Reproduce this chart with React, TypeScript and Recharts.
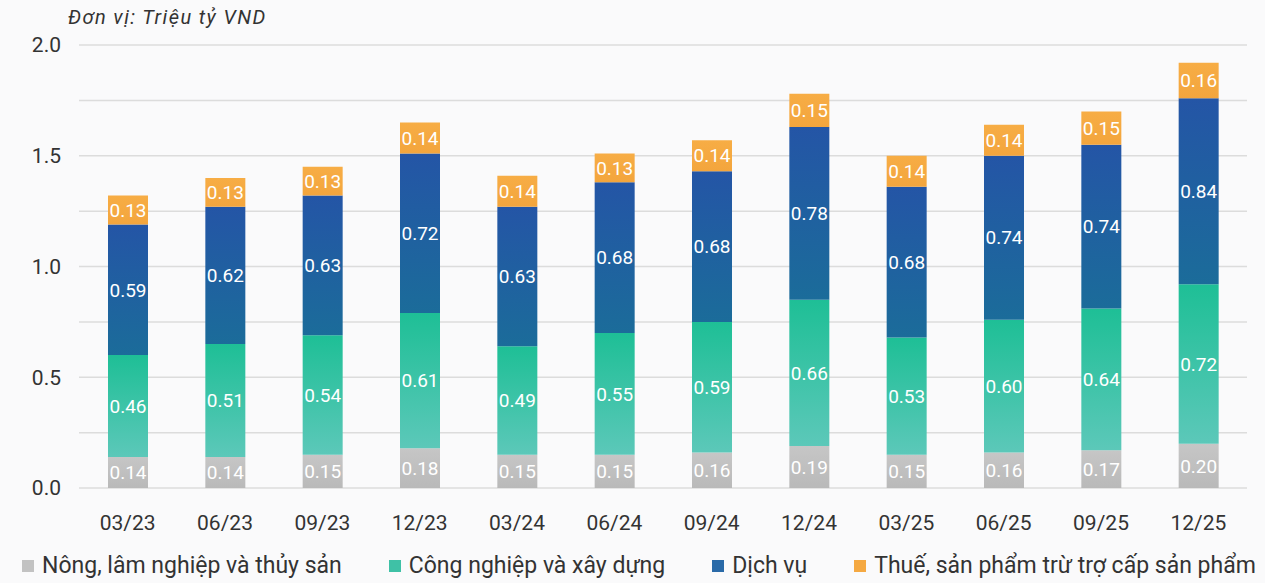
import React from "react";
import { BarChart, Bar, XAxis, YAxis, CartesianGrid, Legend, LabelList } from "recharts";

const categories = ["03/23", "06/23", "09/23", "12/23", "03/24", "06/24", "09/24", "12/24", "03/25", "06/25", "09/25", "12/25"];
const agriculture = [0.14, 0.14, 0.15, 0.18, 0.15, 0.15, 0.16, 0.19, 0.15, 0.16, 0.17, 0.2];
const industry = [0.46, 0.51, 0.54, 0.61, 0.49, 0.55, 0.59, 0.66, 0.53, 0.6, 0.64, 0.72];
const services = [0.59, 0.62, 0.63, 0.72, 0.63, 0.68, 0.68, 0.78, 0.68, 0.74, 0.74, 0.84];
const taxes = [0.13, 0.13, 0.13, 0.14, 0.14, 0.13, 0.14, 0.15, 0.14, 0.14, 0.15, 0.16];
const yTicks = [0, 0.25, 0.5, 0.75, 1, 1.25, 1.5, 1.75, 2];

const seriesNames = {
  agriculture: "Nông, lâm nghiệp và thủy sản",
  industry: "Công nghiệp và xây dựng",
  services: "Dịch vụ",
  taxes: "Thuế, sản phẩm trừ trợ cấp sản phẩm",
};

const data = categories.map((c, i) => ({
  name: c,
  agriculture: agriculture[i],
  industry: industry[i],
  services: services[i],
  taxes: taxes[i],
}));

const FONT = "Roboto, 'Noto Sans', sans-serif";

const legendItems = [
  { key: "agriculture", color: "#c2c2c2" },
  { key: "industry", color: "#3fc1a6" },
  { key: "services", color: "#2a6aa8" },
  { key: "taxes", color: "#f5a942" },
];

const renderLegend = () => (
  <div style={{ display: "flex", gap: 47, alignItems: "center", fontFamily: FONT, fontSize: 23, color: "#333", whiteSpace: "nowrap" }}>
    {legendItems.map((it) => (
      <div key={it.key} style={{ display: "flex", alignItems: "center" }}>
        <span style={{ display: "inline-block", width: 12, height: 12, background: it.color, marginRight: 8 }} />
        <span>{(seriesNames as any)[it.key]}</span>
      </div>
    ))}
  </div>
);

const fmt = (v: any) => Number(v).toFixed(2);

const labelProps = {
  position: "center" as const,
  fill: "#ffffff",
  fontSize: 19,
  fontFamily: FONT,
  formatter: fmt,
};

export default function App() {
  return (
    <div style={{ position: "absolute", left: 0, top: 0, width: 1265, height: 583, background: "#fafafb", overflow: "hidden" }}>
      <div
        style={{
          position: "absolute",
          left: 68,
          top: 5,
          fontFamily: FONT,
          fontStyle: "italic",
          fontSize: 20,
          letterSpacing: 1.4,
          color: "#333",
          zIndex: 2,
        }}
      >
        Đơn vị: Triệu tỷ VND
      </div>
      <BarChart
        width={1265}
        height={583}
        data={data}
        margin={{ top: 45, right: 18, left: 0, bottom: 0 }}
        barSize={40}
      >
        <defs>
          <linearGradient id="gTeal" x1="0" y1="0" x2="0" y2="1">
            <stop offset="0%" stopColor="#1ebf96" />
            <stop offset="100%" stopColor="#5cc8b9" />
          </linearGradient>
          <linearGradient id="gBlue" x1="0" y1="0" x2="0" y2="1">
            <stop offset="0%" stopColor="#2455a6" />
            <stop offset="100%" stopColor="#1b6c9a" />
          </linearGradient>
          <linearGradient id="gGray" x1="0" y1="0" x2="0" y2="1">
            <stop offset="0%" stopColor="#c6c6c6" />
            <stop offset="100%" stopColor="#b9b9b9" />
          </linearGradient>
          <linearGradient id="gOrange" x1="0" y1="0" x2="0" y2="1">
            <stop offset="0%" stopColor="#f7ad45" />
            <stop offset="100%" stopColor="#f3a53d" />
          </linearGradient>
        </defs>
        <CartesianGrid vertical={false} stroke="#dcdcdc" strokeWidth={1.5} />
        <XAxis
          dataKey="name"
          axisLine={false}
          tickLine={false}
          tickSize={0}
          tickMargin={27}
          height={68}
          tick={{ fill: "#333", fontSize: 21, fontFamily: FONT }}
        />
        <YAxis
          domain={[0, 2]}
          ticks={yTicks}
          interval={0}
          axisLine={false}
          tickLine={false}
          tickSize={0}
          tickMargin={18}
          width={79}
          tickFormatter={(v: number) => (Math.abs((v * 2) % 1) < 1e-9 ? v.toFixed(1) : "")}
          tick={{ fill: "#333", fontSize: 21, fontFamily: FONT }}
        />
        <Legend
          verticalAlign="bottom"
          content={renderLegend}
          wrapperStyle={{ position: "absolute", left: 22, top: 552, bottom: "auto", width: "auto" }}
        />
        <Bar dataKey="agriculture" name={seriesNames.agriculture} stackId="a" fill="url(#gGray)" isAnimationActive={false}>
          <LabelList dataKey="agriculture" {...labelProps} />
        </Bar>
        <Bar dataKey="industry" name={seriesNames.industry} stackId="a" fill="url(#gTeal)" isAnimationActive={false}>
          <LabelList dataKey="industry" {...labelProps} />
        </Bar>
        <Bar dataKey="services" name={seriesNames.services} stackId="a" fill="url(#gBlue)" isAnimationActive={false}>
          <LabelList dataKey="services" {...labelProps} />
        </Bar>
        <Bar dataKey="taxes" name={seriesNames.taxes} stackId="a" fill="url(#gOrange)" isAnimationActive={false}>
          <LabelList dataKey="taxes" {...labelProps} />
        </Bar>
      </BarChart>
    </div>
  );
}
